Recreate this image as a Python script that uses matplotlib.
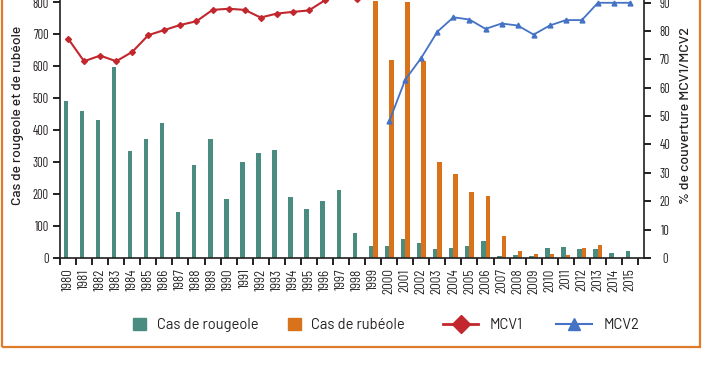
import numpy as np
import matplotlib
matplotlib.use("Agg")
import matplotlib.pyplot as plt
from matplotlib.patches import Patch, Rectangle
from matplotlib.lines import Line2D
from matplotlib import font_manager as fm

years = list(range(1980, 2016))
measles = [492, 459, 433, 597, 335, 372, 422, 144, 290, 372,
           185, 302, 328, 339, 190, 154, 179, 213, 77, 38,
           38, 59, 46, 27, 30, 38, 53, 6, 10, 7,
           30, 36, 27, 27, 15, 22]
rubella = [0, 0, 0, 0, 0, 0, 0, 0, 0, 0,
           0, 0, 0, 0, 0, 0, 0, 0, 0, 805,
           619, 800, 616, 300, 262, 207, 193, 69, 23, 13,
           12, 10, 31, 41, 0, 0]
mcv1 = [77.3, 69.3, 71.3, 69.3, 72.6, 78.5, 80.3, 82.1, 83.4, 87.4,
        87.8, 87.4, 84.7, 86.1, 86.7, 87.2, 90.8, 93.0, 91.4, 95.0,
        96.0, 97.0, 97.0, 98.0, 98.0, 98.0, 98.0, 98.0, 98.0, 98.0,
        98.0, 98.0, 98.0, 98.0, 98.0, 98.0]
mcv2_years = list(range(2000, 2016))
mcv2 = [48.1, 62.8, 70.5, 79.7, 84.8, 84.0, 80.7, 82.6, 81.9, 78.7,
        81.9, 83.8, 83.8, 89.9, 89.9, 89.9]
left_ticks = [0, 100, 200, 300, 400, 500, 600, 700, 800]
right_ticks = [0, 10, 20, 30, 40, 50, 60, 70, 80, 90]

TEAL = "#4A8C80"
ORANGE = "#D8731B"
RED = "#C1272D"
BLUE = "#4472C4"
DARK = "#231F20"
FRAME = "#E07B2A"

names = set(f.name for f in fm.fontManager.ttflist)


def first_available(prefs):
    for p in prefs:
        if p in names:
            return p
    return "DejaVu Sans"


tick_family = first_available(["Barlow Condensed", "Roboto Condensed", "DejaVu Sans"])
year_family = first_available(["Barlow Semi Condensed", "Barlow Condensed", "DejaVu Sans"])
label_family = first_available(["Barlow", "DejaVu Sans"])
tick_fp = fm.FontProperties(family=tick_family, size=9)
year_fp = fm.FontProperties(family=year_family, size=9.5)

W, H = 702, 370
fig = plt.figure(figsize=(W / 100, H / 100), dpi=100)
fig.patch.set_facecolor("white")

left_px, right_px, bottom_px = 60, 644, 258
y800_px = 2.5
scale = (bottom_px - y800_px) / 800.0
top_px = bottom_px - 900 * scale
ax = fig.add_axes([left_px / W, (H - bottom_px) / H,
                   (right_px - left_px) / W, (bottom_px - top_px) / H])

x = np.arange(len(years))
ax.bar(x - 0.14, measles, width=0.28, color=TEAL, zorder=2)
ax.bar(x + 0.14, rubella, width=0.28, color=ORANGE, zorder=2)
ax.set_xlim(-0.5, 35.87)
ax.set_ylim(0, 900)

ax2 = ax.twinx()
ax2.set_ylim(0, 90 * 900 / 800)
ax2.plot(x, mcv1, color=RED, lw=1.5, marker="D", ms=3, zorder=3)
mx = np.array([years.index(y) for y in mcv2_years])
ax2.plot(mx, mcv2, color=BLUE, lw=1.3, marker="^", ms=3.5, zorder=3)

for a in (ax, ax2):
    a.spines["top"].set_visible(False)
    for s in ("left", "right", "bottom"):
        a.spines[s].set_linewidth(1.2)
        a.spines[s].set_color(DARK)

ax.spines["right"].set_visible(False)
ax2.spines["left"].set_visible(False)
ax2.spines["bottom"].set_visible(False)

ax.set_yticks(left_ticks)
ax.set_yticklabels([str(v) for v in left_ticks], fontproperties=tick_fp, color=DARK)
ax.tick_params(axis="y", direction="out", length=5, width=1.4, pad=3, color=DARK)

ax.set_xticks(x)
ax.set_xticklabels([str(y) for y in years], rotation=90, fontproperties=year_fp, color=DARK)
ax.tick_params(axis="x", which="major", length=0, pad=7.5)
ax.set_xticks(np.arange(-0.5, 36, 1.0), minor=True)
ax.tick_params(axis="x", which="minor", direction="out", length=5, width=1.4, color=DARK)

ax2.set_yticks(right_ticks)
ax2.set_yticklabels([str(v) for v in right_ticks], fontproperties=tick_fp, color=DARK)
ax2.tick_params(axis="y", direction="out", length=5, width=1.4, pad=10, color=DARK)
for lbl in ax2.get_yticklabels():
    lbl.set_horizontalalignment("center")

cy = (H - 115) / H
fig.text(18 / W, cy, "Cas de rougeole et de rubéole", rotation=90,
         ha="center", va="center", fontsize=10, color=DARK,
         fontfamily=label_family, fontweight="medium")
fig.text(686 / W, cy, "% de couverture MCV1/MCV2", rotation=90,
         ha="center", va="center", fontsize=10.2, color=DARK,
         fontfamily=label_family, fontweight="medium")

ly = (H - 325) / H
leg1 = fig.legend(handles=[Patch(color=TEAL), Patch(color=ORANGE)],
                  labels=["Cas de rougeole", "Cas de rubéole"],
                  loc="center left", bbox_to_anchor=(133 / W, ly), ncol=2,
                  frameon=False, handlelength=0.9, handleheight=0.9,
                  handletextpad=0.7, columnspacing=2.0, borderpad=0,
                  borderaxespad=0, prop={"family": label_family, "size": 10.6})
for t in leg1.get_texts():
    t.set_color(DARK)
leg2 = fig.legend(handles=[Line2D([], [], color=RED, lw=2, marker="D", ms=9.5),
                           Line2D([], [], color=BLUE, lw=1.5, marker="^", ms=9)],
                  labels=["MCV1", "MCV2"],
                  loc="center left", bbox_to_anchor=(443 / W, ly), ncol=2,
                  frameon=False, handlelength=2.4, handletextpad=0.8,
                  columnspacing=2.25, borderpad=0, borderaxespad=0,
                  prop={"family": label_family, "size": 10.6})
for t in leg2.get_texts():
    t.set_color(DARK)

frame = Rectangle((1.5 / W, (H - 346.5) / H), 698 / W, 1.0,
                  transform=fig.transFigure, fill=False, edgecolor=FRAME,
                  linewidth=1.6, clip_on=False)
fig.add_artist(frame)

fig.savefig("out.png", dpi=100)
